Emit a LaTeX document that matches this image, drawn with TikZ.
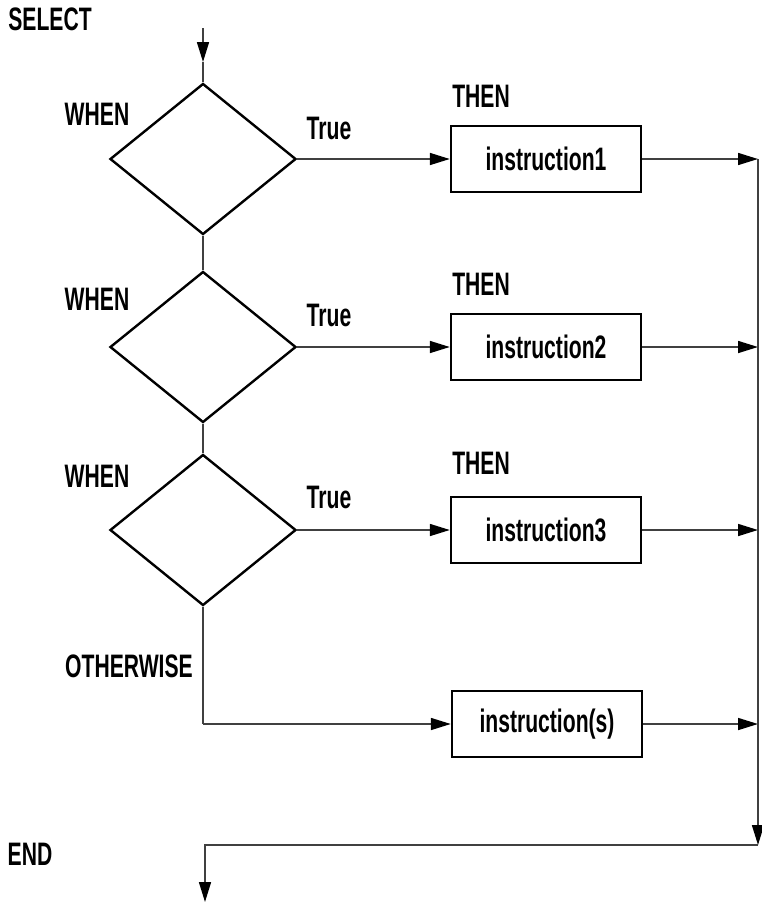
\documentclass[tikz,border=0pt]{standalone}
\usepackage{fontspec}
\setmainfont[FakeStretch=0.65]{Liberation Sans}
\usetikzlibrary{shapes, positioning, arrows.meta, calc}

\begin{document}
\begin{tikzpicture}[x=1pt, y=-1pt, every node/.style={font=\fontsize{32.5}{32.5}\selectfont\bfseries},
  cond/.style={diamond, draw, line width=2.4pt, minimum width=186pt, minimum height=151pt, inner sep=0pt, aspect=1.23},
  instr/.style={rectangle, draw, line width=2.4pt, minimum width=190pt, minimum height=66pt, inner sep=0pt},
  flow/.style={line width=1.6pt, draw=black!75},
  flowarr/.style={-{Triangle[length=20pt,width=12pt,color=black]}}]

\useasboundingbox (0,0) rectangle (761,903);

%//entry
\node (select) at (50,19) {SELECT};
\coordinate (start) at (203,28);
\coordinate (startmid) at (203,62);
\coordinate (rail) at (758,159);

%//the three WHEN ... THEN rows
\foreach \n/\y/\w/\t/\h in {1/159/114/128/96, 2/347/299/315/284, 3/530/476/497/463}
{
\node [cond] (d\n) at (203,\y) {};
\node [instr] (b\n) at (546,\y) {instruction\n};
\node (when\n) at (97,\w) {WHEN};
\node (true\n) at (329,\t) {True};
\node (then\n) at (481,\h) {THEN};
\draw [flow, flowarr] (d\n.east) -- (b\n.west);
\draw [flow, flowarr] (b\n.east) -- (b\n.east -| rail);
}

\draw [flow, flowarr] (start) -- (startmid);
\draw [flow] (startmid) -- (d1.north);
\draw [flow] (d1.south) -- (d2.north);
\draw [flow] (d2.south) -- (d3.north);

%//otherwise branch
\node (otherwise) at (129,666) {OTHERWISE};
\node [instr] (b4) at (547,724) {instruction(s)};
\coordinate (ow) at (203,724);
\draw [flow] (d3.south) -- (ow);
\draw [flow, flowarr] (ow) -- (b4.west);
\draw [flow, flowarr] (b4.east) -- (b4.east -| rail);

%//exit
\coordinate (railend) at (758,845);
\coordinate (endturn) at (205,845);
\coordinate (exit) at (205,902);
\draw [flow, flowarr] (rail) -- (railend);
\draw [flow, flowarr] (railend) -- (endturn) -- (exit);
\node (endlabel) at (30,854) {END};
\end{tikzpicture}
\end{document}
